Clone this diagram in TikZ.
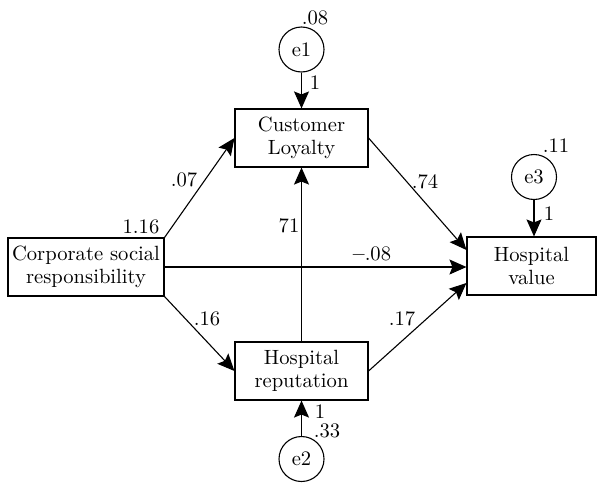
\documentclass[tikz,border=0pt]{standalone}
\usepackage{tikz}
\usetikzlibrary{shapes,arrows.meta,positioning}

\begin{document}
\begin{tikzpicture}[x=0.5pt,y=-0.5pt,
  every node/.style={font=\fontsize{10.3}{11.5}\selectfont},
  box/.style={draw, line width=0.55pt, align=center, inner sep=0pt},
  err/.style={draw, circle, line width=0.55pt, minimum size=22.5pt, inner sep=0pt},
  path/.style={line width=0.55pt, -{Stealth[length=8.5pt,width=7.5pt,inset=1.5pt]}},
  coef/.style={inner sep=0pt}]
\useasboundingbox (0,0) rectangle (597,482);

% Variables
\node[box, minimum width=78pt, minimum height=29pt] (csr) at (86,267) {Corporate social\\responsibility};
\node[box, minimum width=66.5pt, minimum height=29pt] (loyalty) at (301.5,138) {Customer\\Loyalty};
\node[box, minimum width=66.5pt, minimum height=29pt] (reputation) at (301.5,371) {Hospital\\reputation};
\node[box, minimum width=64.5pt, minimum height=29pt] (value) at (531.5,266) {Hospital\\value};

% Error terms
\node[err] (e1) at (301.5,49.5) {e1};
\node[err] (e2) at (301.5,459) {e2};
\node[err] (e3) at (534,177) {e3};

% Paths
\draw[path] (e1) -- (loyalty);
\draw[path] (e2) -- (reputation);
\draw[path] (e3) -- (e3 |- value.north);
\draw[path] (csr.north east) -- (loyalty.west);
\draw[path] (csr.south east) -- (reputation.west);
\draw[path] (csr.east) -- (csr.east -| value.west);
\draw[path] (reputation) -- (loyalty);
\draw[path] (loyalty.east) -- ([yshift=8pt]value.west);
\draw[path] (reputation.east) -- ([yshift=-8.5pt]value.west);

% Estimates
\node[coef] (v1) at (315,18) {.08};
\node[coef] (w1) at (315,83) {1};
\node[coef] (v2) at (327,431) {.33};
\node[coef] (w2) at (320,412) {1};
\node[coef] (v3) at (556,146) {.11};
\node[coef] (w3) at (549,214) {1};
\node[coef] (vcsr) at (141,227) {1.16};
\node[coef] (b1) at (184,180) {.07};
\node[coef] (b2) at (207,319) {.16};
\node[coef] (b3) at (372,254) {\textbf{--}.08};
\node[coef] (b4) at (289,226) {71};
\node[coef] (b5) at (425,182) {.74};
\node[coef] (b6) at (402,319) {.17};
\end{tikzpicture}
\end{document}
